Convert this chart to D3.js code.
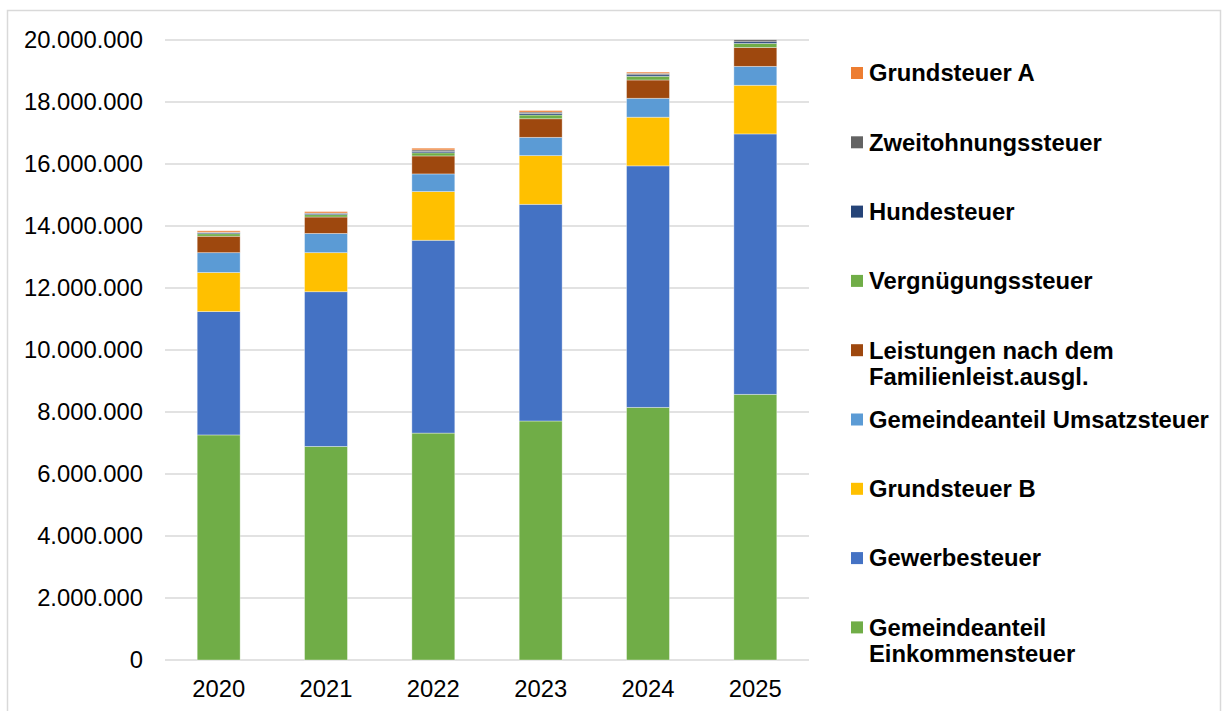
<!DOCTYPE html>
<html><head><meta charset="utf-8">
<script src="https://cdn.jsdelivr.net/npm/d3@7"></script>
<style>body{margin:0;background:#fff}svg{display:block}text{font-family:"Liberation Sans",Arial,sans-serif}</style>
</head><body><svg id="c" width="1226" height="711"></svg>
<script>
const years = ["2020","2021","2022","2023","2024","2025"];
const seriesNames = ["Gemeindeanteil Einkommensteuer","Gewerbesteuer","Grundsteuer B","Gemeindeanteil Umsatzsteuer","Leistungen nach dem Familienleist.ausgl.","Vergnügungssteuer","Hundesteuer","Zweitohnungssteuer","Grundsteuer A"];
const einkommen  = [7260000,6890000,7320000,7710000,8150000,8570000];
const gewerbe    = [3980000,4990000,6220000,6990000,7790000,8400000];
const grundB     = [1260000,1260000,1570000,1570000,1570000,1570000];
const umsatz     = [640000,620000,570000,590000,610000,610000];
const leistungen = [530000,530000,580000,600000,590000,610000];
const vergnuegung= [80000,75000,100000,120000,120000,130000];
const hunde      = [35000,35000,50000,50000,50000,55000];
const zweit      = [15000,20000,45000,45000,45000,60000];
const grundA     = [45000,45000,55000,50000,40000,0];
const colors = ["#70AD47","#4472C4","#FFC000","#5B9BD5","#9E480E","#70AD47","#264478","#636363","#ED7D31"];
const yTicks = [0,2000000,4000000,6000000,8000000,10000000,12000000,14000000,16000000,18000000,20000000];
const legendLines = [["Grundsteuer A"],["Zweitohnungssteuer"],["Hundesteuer"],["Vergnügungssteuer"],["Leistungen nach dem","Familienleist.ausgl."],["Gemeindeanteil Umsatzsteuer"],["Grundsteuer B"],["Gewerbesteuer"],["Gemeindeanteil","Einkommensteuer"]];

const allSeries = [einkommen,gewerbe,grundB,umsatz,leistungen,vergnuegung,hunde,zweit,grundA];
const rows = years.map((y,i)=>{const r={year:y}; seriesNames.forEach((n,k)=>r[n]=allSeries[k][i]); return r;});
const stacked = d3.stack().keys(seriesNames)(rows);

const svg = d3.select("#c");
const fmt = v => d3.format(",")(v).replace(/,/g,".");
svg.append("rect").attr("x",7.5).attr("y",10.5).attr("width",1213).attr("height",720)
  .attr("fill","none").attr("stroke","#d9d9d9").attr("stroke-width",1.5);

const x = d3.scaleBand().domain(years).range([165,809]).paddingInner(0.6).paddingOuter(0.3);
const y = d3.scaleLinear().domain([0,20000000]).range([660,40]);

svg.append("g").selectAll("line").data(yTicks).join("line")
  .attr("x1",165).attr("x2",809).attr("y1",d=>y(d)).attr("y2",d=>y(d))
  .attr("stroke","#d9d9d9").attr("stroke-width",1.5);

svg.append("g").selectAll("text").data(yTicks).join("text")
  .attr("x",143).attr("y",d=>y(d)).attr("dy","0.35em").attr("text-anchor","end")
  .attr("font-size",23.8).attr("fill","#000").text(fmt);

svg.append("g").selectAll("text").data(years).join("text")
  .attr("x",d=>x(d)+x.bandwidth()/2).attr("y",697).attr("text-anchor","middle")
  .attr("font-size",23.8).attr("fill","#000").text(d=>d);

svg.append("g").selectAll("g").data(stacked).join("g").attr("fill",(d,i)=>colors[i])
  .selectAll("rect").data(d=>d).join("rect")
  .attr("x",d=>x(d.data.year)).attr("width",x.bandwidth())
  .attr("y",d=>y(d[1])).attr("height",d=>Math.max(0,y(d[0])-y(d[1])))
  .attr("stroke","#ffffff").attr("stroke-opacity",0.45).attr("stroke-width",0.8);

const lg = svg.append("g");
legendLines.forEach((lines,k)=>{
  const cy = 73 + k*69.3;
  const idx = seriesNames.length-1-k;
  lg.append("rect").attr("x",851).attr("y",cy-6).attr("width",12).attr("height",12).attr("fill",colors[idx]);
  lines.forEach((t,j)=>{
    lg.append("text").attr("x",869).attr("y",cy+j*26).attr("dy","0.35em")
      .attr("font-size",23.8).attr("font-weight","bold").attr("fill","#000").text(t);
  });
});
</script></body></html>
